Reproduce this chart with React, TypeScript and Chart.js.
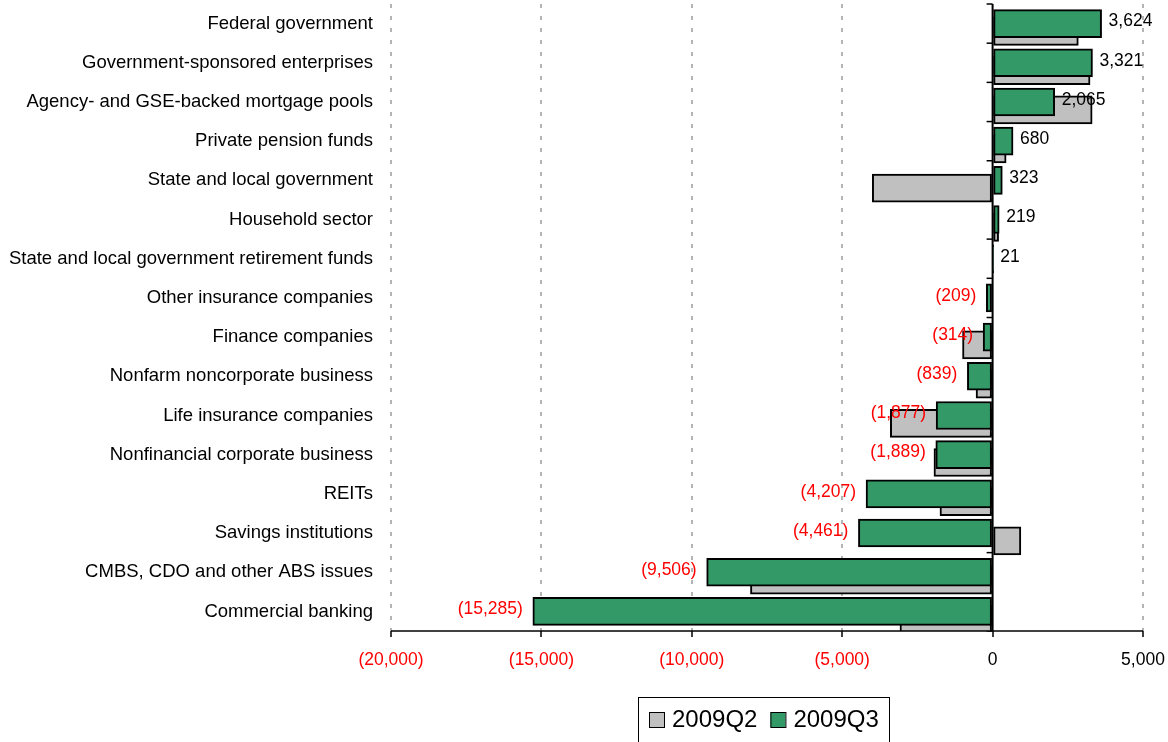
import React, { useEffect, useRef } from "react";
import { Chart, registerables } from "chart.js";

Chart.register(...registerables);

const categories = [
  "Federal government",
  "Government-sponsored enterprises",
  "Agency- and GSE-backed mortgage pools",
  "Private pension funds",
  "State and local government",
  "Household sector",
  "State and local government retirement funds",
  "Other insurance companies",
  "Finance companies",
  "Nonfarm noncorporate business",
  "Life insurance companies",
  "Nonfinancial corporate business",
  "REITs",
  "Savings institutions",
  "CMBS, CDO and other ABS issues",
  "Commercial banking",
];

const seriesLabels = ["2009Q2", "2009Q3"];

const q2Values = [2850, 3240, 3310, 450, -4000, 200, 0, 0, -1000, -550, -3400, -1950, -1750, 940, -8050, -3080];
const q3Values = [3624, 3321, 2065, 680, 323, 219, 21, -209, -314, -839, -1877, -1889, -4207, -4461, -9506, -15285];

const xTickValues = [-20000, -15000, -10000, -5000, 0, 5000];

const FONT = "'Liberation Sans', Arial, Helvetica, sans-serif";
const GREEN = "#339966";
const GRAY = "#C0C0C0";
const RED = "#FF0000";
const Q2_OFFSET = 0.2;

const fmt = (v: number) => {
  const s = Math.abs(v).toLocaleString("en-US");
  return v < 0 ? `(${s})` : s;
};

export default function App() {
  const ref = useRef<HTMLCanvasElement>(null);

  useEffect(() => {
    if (!ref.current) return;

    const zeroAxis = {
      id: "zeroAxis",
      beforeDatasetsDraw(chart: any) {
        const { ctx, scales } = chart;
        const x0 = scales.x.getPixelForValue(0);
        ctx.save();
        ctx.strokeStyle = "#000";
        ctx.lineWidth = 1.5;
        for (let k = 0; k <= categories.length; k++) {
          const y = scales.y.getPixelForValue(k - 0.5);
          ctx.beginPath();
          ctx.moveTo(x0 - 6, y);
          ctx.lineTo(x0, y);
          ctx.stroke();
        }
        ctx.restore();
      },
      afterDatasetsDraw(chart: any) {
        const { ctx, scales, chartArea } = chart;
        const x0 = scales.x.getPixelForValue(0);
        ctx.save();
        ctx.strokeStyle = "#000";
        ctx.lineWidth = 2;
        ctx.beginPath();
        ctx.moveTo(x0, chartArea.top);
        ctx.lineTo(x0, chartArea.bottom);
        ctx.stroke();
        ctx.lineWidth = 1.5;
        ctx.beginPath();
        ctx.moveTo(chartArea.left, chartArea.bottom);
        ctx.lineTo(chartArea.right, chartArea.bottom);
        ctx.stroke();

        // value labels for 2009Q3
        const meta = chart.getDatasetMeta(1);
        ctx.font = `17.5px ${FONT}`;
        ctx.textBaseline = "middle";
        meta.data.forEach((el: any, i: number) => {
          const v = q3Values[i];
          if (v < 0) {
            ctx.fillStyle = RED;
            ctx.textAlign = "right";
            ctx.fillText(fmt(v), el.x - 10, el.y - 2);
          } else {
            ctx.fillStyle = "#000";
            ctx.textAlign = "left";
            ctx.fillText(fmt(v), el.x + 7, el.y - 2);
          }
        });
        ctx.restore();
      },
    };

    const legendBox = {
      id: "legendBox",
      afterDraw(chart: any) {
        const { ctx } = chart;
        ctx.save();
        ctx.strokeStyle = "#000";
        ctx.lineWidth = 1;
        ctx.strokeRect(638.5, 697.5, 251, 70);
        ctx.font = `24px ${FONT}`;
        ctx.textBaseline = "middle";
        ctx.textAlign = "left";
        let x = 649;
        chart.data.datasets.forEach((ds: any) => {
          ctx.fillStyle = ds.backgroundColor;
          ctx.fillRect(x, 712, 15, 15);
          ctx.strokeStyle = "#000";
          ctx.lineWidth = 1;
          ctx.strokeRect(x + 0.5, 712.5, 15, 15);
          ctx.fillStyle = "#000";
          ctx.fillText(ds.label, x + 23, 720);
          x += 23 + ctx.measureText(ds.label).width + 13;
        });
        ctx.restore();
      },
    };

    const chart = new Chart(ref.current, {
      type: "bar",
      data: {
        datasets: [
          {
            label: seriesLabels[0],
            data: q2Values.map((v, i) => ({ x: v, y: i + Q2_OFFSET })),
            backgroundColor: GRAY,
            borderColor: "#000",
            borderWidth: 2,
            borderSkipped: false,
            barThickness: 28,
            grouped: false,
            order: 2,
          },
          {
            label: seriesLabels[1],
            data: q3Values.map((v, i) => ({ x: v, y: i })),
            backgroundColor: GREEN,
            borderColor: "#000",
            borderWidth: 2,
            borderSkipped: false,
            barThickness: 28,
            grouped: false,
            order: 1,
          },
        ] as any,
      },
      options: {
        indexAxis: "y",
        responsive: false,
        animation: false,
        events: [],
        layout: { padding: { top: 4, right: 25, left: 0, bottom: 0 } },
        plugins: { legend: { display: false }, tooltip: { enabled: false } },
        scales: {
          x: {
            type: "linear",
            bounds: "data",
            offset: false,
            min: -20000,
            max: 5000,
            afterBuildTicks: (s: any) => {
              s.ticks = xTickValues.map((v) => ({ value: v }));
            },
            grid: {
              color: (c: any) => (c.tick && c.tick.value === 0 ? "rgba(0,0,0,0)" : "#B4B4B4"),
              lineWidth: 2,
              offset: false,
              drawTicks: true,
              tickLength: 6,
              tickColor: "#000",
              tickWidth: 1.5,
              tickBorderDash: [],
            },
            border: { display: false, dash: [4, 8] },
            ticks: {
              callback: (v: any) => fmt(Number(v)),
              color: (c: any) => (c.tick && c.tick.value < 0 ? RED : "#000"),
              font: { family: FONT, size: 17.5 },
              padding: 13,
              maxRotation: 0,
              autoSkip: false,
            },
            afterFit: (s: any) => {
              s.height = 111;
              s.paddingLeft = 0;
              s.paddingRight = 0;
              s.paddingTop = 0;
              s.paddingBottom = 0;
            },
          },
          y: {
            type: "linear",
            bounds: "data",
            offset: false,
            reverse: true,
            min: -0.5,
            max: categories.length - 0.5,
            afterBuildTicks: (s: any) => {
              s.ticks = categories.map((_, i) => ({ value: i }));
            },
            grid: { display: false, drawTicks: false, offset: false },
            border: { display: false },
            ticks: {
              callback: (v: any) => categories[Number(v)] ?? "",
              color: "#000",
              font: { family: FONT, size: 18.5 },
              padding: 18,
              autoSkip: false,
            },
            afterFit: (s: any) => {
              s.width = 391;
              s.paddingLeft = 0;
              s.paddingRight = 0;
              s.paddingTop = 0;
              s.paddingBottom = 0;
            },
          },
        },
      } as any,
      plugins: [zeroAxis, legendBox],
    });

    return () => chart.destroy();
  }, []);

  return (
    <div style={{ position: "absolute", left: 0, top: 0, width: 1168, height: 742, background: "#fff" }}>
      <canvas ref={ref} width={1168} height={742} style={{ display: "block" }} />
    </div>
  );
}
